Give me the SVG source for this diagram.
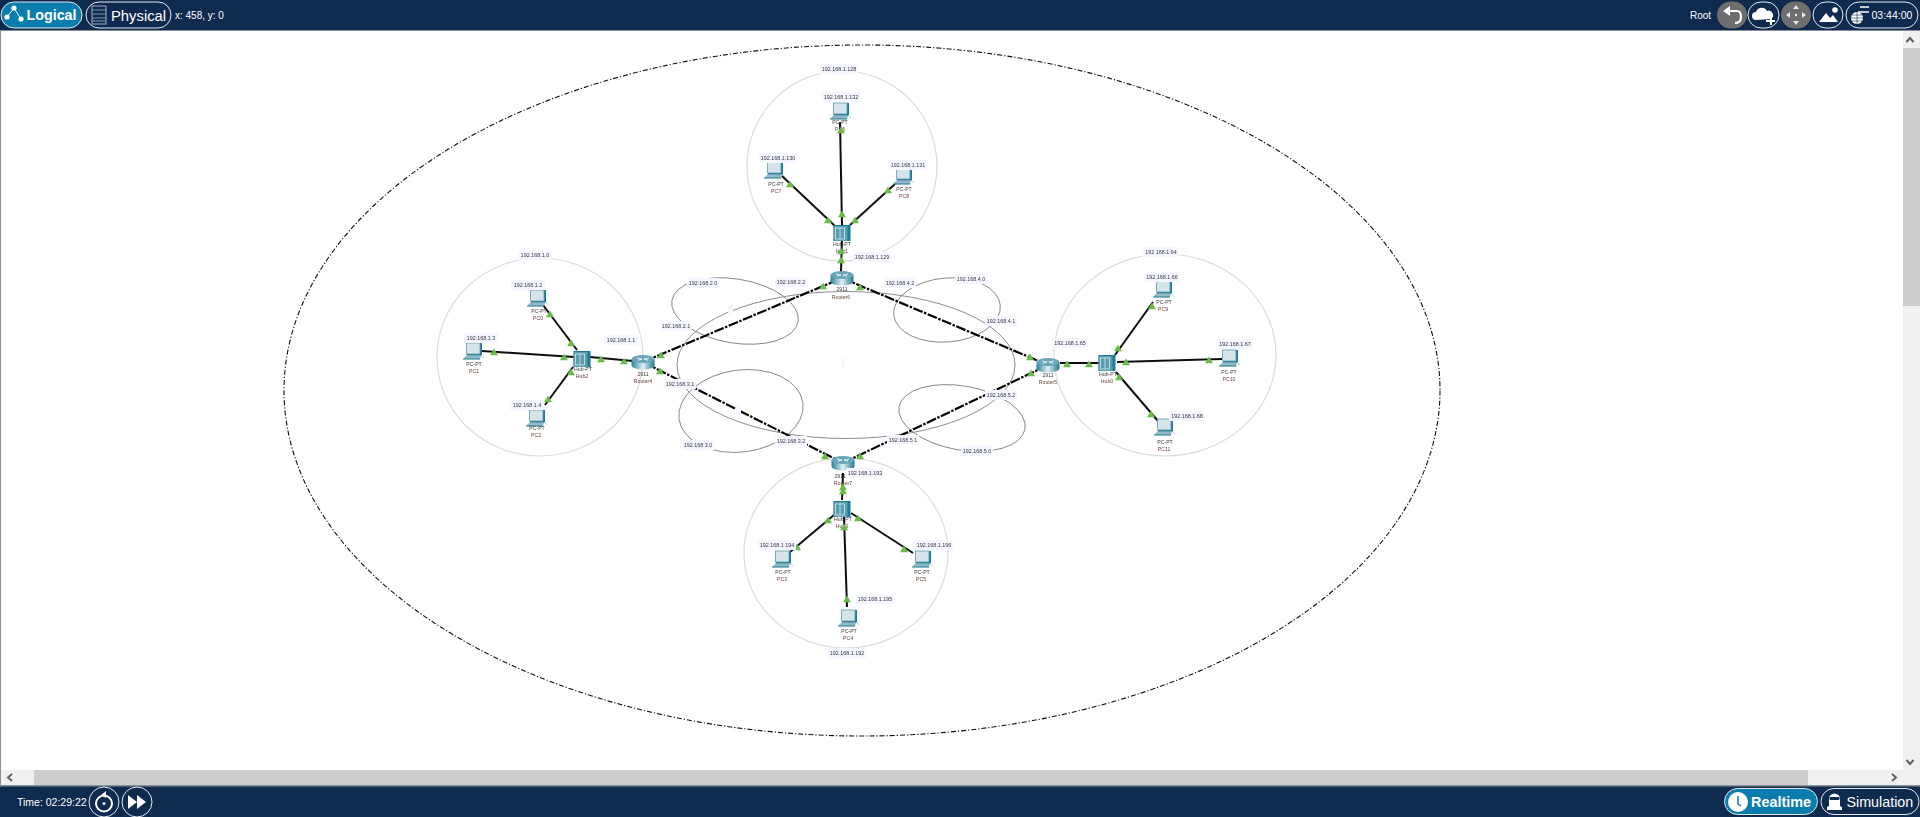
<svg xmlns="http://www.w3.org/2000/svg" width="1920" height="817" viewBox="0 0 1920 817">
<style>
text{font-family:"Liberation Sans",Arial,sans-serif}
.ui{fill:#fff;font-size:10.5px}
.ip{font-size:5.4px;fill:#3a3440;text-anchor:middle}
.lb{fill:#f5f7fe}
.nm{font-size:5.2px;fill:#3c3c3c;text-anchor:middle}
.dev{fill:#6a4238}
.net{fill:none;stroke:#dcdcdc;stroke-width:1.2}
.cloud{fill:none;stroke:#808080;stroke-width:.9}
.lan{stroke:#111;stroke-width:2;fill:none}
.wan{stroke:#000;stroke-width:2.2;fill:none;stroke-dasharray:10 1.5 2.5 1.5}
.pill{fill:none;stroke:#e4e8ee;stroke-width:1}
.on{fill:#0a7dae;stroke:#e4e8ee;stroke-width:1}
.grey{fill:#6e6e6e}
</style>
<defs>
<filter id="soft" filterUnits="userSpaceOnUse" x="0" y="30" width="1920" height="740"><feGaussianBlur stdDeviation="0.35"/></filter>
<polygon id="t" points="0,-3.4 4,3.2 -4,3.2" fill="#6abb4a"/>
<linearGradient id="rg" x1="0" x2="1" y1="0" y2="0">
<stop offset="0" stop-color="#2b7f97"/><stop offset=".5" stop-color="#dcf0f5"/><stop offset="1" stop-color="#23768e"/>
</linearGradient>
<g id="pc">
<rect x="-6" y="-9" width="15" height="12.5" fill="#1c7b94"/>
<rect x="-6.5" y="-9" width="13.5" height="11" fill="#d5e4eb" stroke="#5f9aad" stroke-width=".8"/>
<polygon points="-6,3 8,3 7,7 -10,7" fill="#6da4b6"/>
<path d="M-8 5H7" stroke="#d5e4eb" stroke-width=".7"/>
<path d="M-10 7.2H7" stroke="#2b7f97" stroke-width=".8"/>
<path d="M9 4l2 2" stroke="#9bb" stroke-width=".8"/>
</g>
<g id="hub">
<rect x="-8.5" y="-8" width="17" height="16" fill="#1c7b94"/>
<rect x="-8.5" y="-7" width="14" height="15" fill="#5b9cb0"/>
<rect x="-6.5" y="-5" width="9" height="11" fill="none" stroke="#d5e9ef" stroke-width=".8"/>
<path d="M-2 -5V6" stroke="#d5e9ef" stroke-width=".8"/>
</g>
<g id="rt">
<path d="M-11.5 -3V3.5A11.5 4 0 0 0 11.5 3.5V-3Z" fill="url(#rg)"/>
<ellipse cx="0" cy="-3" rx="11.5" ry="4" fill="#6ba6b9"/>
<path d="M-6 -4L-1 -2.5M6 -4L1 -2.5M-5 -1.5L-1 -3.5M5 -1.5L1 -3.5" stroke="#fff" stroke-width=".8"/>
</g>
</defs>

<rect width="1920" height="817" fill="#fff"/>

<g id="workspace" filter="url(#soft)">
<g id="backbone">
<ellipse cx="862" cy="390.5" rx="578" ry="345.5" fill="none" stroke="#111" stroke-width="1.1" stroke-dasharray="5 2 1.2 2"/>
</g>
<g id="networks">
<ellipse class="net" cx="842" cy="166" rx="95" ry="95"/>
<ellipse class="net" cx="540" cy="357" rx="103" ry="99"/>
<ellipse class="net" cx="1165" cy="355" rx="111" ry="101"/>
<ellipse class="net" cx="846" cy="553" rx="102" ry="95"/>
<ellipse class="cloud" cx="846" cy="365" rx="169" ry="73.5"/>
<ellipse class="cloud" cx="735" cy="311" rx="64" ry="32" transform="rotate(9.5 735 311)"/>
<ellipse class="cloud" cx="947" cy="310" rx="53.5" ry="32" transform="rotate(-5 947 310)"/>
<ellipse class="cloud" cx="741" cy="411" rx="62.5" ry="41" transform="rotate(-7.5 741 411)"/>
<ellipse class="cloud" cx="962" cy="418" rx="64" ry="32" transform="rotate(10 962 418)"/>
</g>

<g id="connectors">
<path class="wan" d="M643 362L842 278"/>
<path class="wan" d="M643 362L843 463"/>
<path class="wan" d="M842 278L1048 365"/>
<path class="wan" d="M843 463L1048 365"/>
<path class="lan" d="M840 122L842 225"/>
<path class="lan" d="M782 176L835 226"/>
<path class="lan" d="M895 184L850 225"/>
<path class="lan" d="M842 240L841 272"/>
<path class="lan" d="M543 305L577 350"/>
<path class="lan" d="M482 351L574 357"/>
<path class="lan" d="M545 405L573 367"/>
<path class="lan" d="M590 357L633 361"/>
<path class="lan" d="M1153 302L1115 355"/>
<path class="lan" d="M1117 362L1222 359"/>
<path class="lan" d="M1116 372L1158 421"/>
<path class="lan" d="M1060 363L1099 363"/>
<path class="lan" d="M843 473L842 500"/>
<path class="lan" d="M790 552L834 515"/>
<path class="lan" d="M913 553L851 513"/>
<path class="lan" d="M847 607L844 517"/>
</g>

<g id="PC6"><use href="#pc" x="840" y="112"/><text class="nm" x="840" y="124">PC-PT</text><text class="nm dev" x="840" y="131">PC6</text></g>
<g id="PC7"><use href="#pc" x="774" y="171"/><text class="nm" x="776" y="186">PC-PT</text><text class="nm dev" x="776" y="193">PC7</text></g>
<g id="PC8"><use href="#pc" x="903" y="177"/><text class="nm" x="904" y="191">PC-PT</text><text class="nm dev" x="904" y="198">PC8</text></g>
<g id="Hub1"><use href="#hub" x="842" y="233"/><text class="nm" x="842" y="246">Hub-PT</text><text class="nm dev" x="842" y="253">Hub1</text></g>
<g id="Router6"><use href="#rt" x="842" y="278"/><text class="nm" x="842" y="291">2911</text><text class="nm dev" x="841" y="299">Router6</text></g>

<g id="PC0"><use href="#pc" x="537" y="299"/><text class="nm" x="539" y="313">PC-PT</text><text class="nm dev" x="538" y="320">PC0</text></g>
<g id="PC1"><use href="#pc" x="473" y="352"/><text class="nm" x="474" y="366">PC-PT</text><text class="nm dev" x="474" y="373">PC1</text></g>
<g id="PC2"><use href="#pc" x="536" y="419"/><text class="nm" x="537" y="430">PC-PT</text><text class="nm dev" x="536" y="437">PC2</text></g>
<g id="Hub2"><use href="#hub" x="582" y="359"/><text class="nm" x="583" y="371">Hub-PT</text><text class="nm dev" x="582" y="378">Hub2</text></g>
<g id="Router4"><use href="#rt" x="643" y="362"/><text class="nm" x="643" y="376">2911</text><text class="nm dev" x="643" y="383">Router4</text></g>

<g id="PC9"><use href="#pc" x="1163" y="290"/><text class="nm" x="1164" y="304">PC-PT</text><text class="nm dev" x="1163" y="311">PC9</text></g>
<g id="PC10"><use href="#pc" x="1229" y="359"/><text class="nm" x="1229" y="374">PC-PT</text><text class="nm dev" x="1229" y="381">PC10</text></g>
<g id="PC11"><use href="#pc" x="1164" y="428"/><text class="nm" x="1165" y="444">PC-PT</text><text class="nm dev" x="1164" y="451">PC11</text></g>
<g id="Hub0"><use href="#hub" x="1107" y="363"/><text class="nm" x="1108" y="376">Hub-PT</text><text class="nm dev" x="1107" y="383">Hub0</text></g>
<g id="Router5"><use href="#rt" x="1048" y="365"/><text class="nm" x="1048" y="377">2911</text><text class="nm dev" x="1048" y="384">Router5</text></g>

<g id="PC3"><use href="#pc" x="782" y="560"/><text class="nm" x="783" y="574">PC-PT</text><text class="nm dev" x="782" y="581">PC3</text></g>
<g id="PC4"><use href="#pc" x="848" y="619"/><text class="nm" x="849" y="633">PC-PT</text><text class="nm dev" x="848" y="640">PC4</text></g>
<g id="PC5"><use href="#pc" x="922" y="560"/><text class="nm" x="922" y="574">PC-PT</text><text class="nm dev" x="921" y="581">PC5</text></g>
<g id="Hub3"><use href="#hub" x="842" y="509"/><text class="nm" x="843" y="521">Hub-PT</text><text class="nm dev" x="842" y="528">Hub3</text></g>
<g id="Router7"><use href="#rt" x="843" y="463"/><text class="nm" x="840" y="478">2911</text><text class="nm dev" x="843" y="485">Router7</text></g>

<g id="link-lights">
<use href="#t" x="841" y="130"/><use href="#t" x="842" y="214"/><use href="#t" x="790" y="184"/><use href="#t" x="828" y="220"/>
<use href="#t" x="888" y="190"/><use href="#t" x="855" y="220"/><use href="#t" x="841" y="251"/><use href="#t" x="841" y="260"/>
<use href="#t" x="550" y="314"/><use href="#t" x="571" y="343"/><use href="#t" x="494" y="352"/><use href="#t" x="564" y="357"/>
<use href="#t" x="548" y="399"/><use href="#t" x="571" y="372"/><use href="#t" x="601" y="359"/><use href="#t" x="624" y="361"/>
<use href="#t" x="1152" y="306"/><use href="#t" x="1118" y="348"/><use href="#t" x="1126" y="362"/><use href="#t" x="1209" y="360"/>
<use href="#t" x="1119" y="377"/><use href="#t" x="1151" y="414"/><use href="#t" x="1067" y="364"/><use href="#t" x="1089" y="364"/>
<use href="#t" x="843" y="487"/><use href="#t" x="843" y="491"/><use href="#t" x="797" y="547"/><use href="#t" x="828" y="520"/>
<use href="#t" x="904" y="549"/><use href="#t" x="858" y="518"/><use href="#t" x="847" y="599"/><use href="#t" x="844" y="527"/>
<use href="#t" x="661" y="355"/><use href="#t" x="823" y="286"/><use href="#t" x="660" y="371"/><use href="#t" x="825" y="456"/>
<use href="#t" x="860" y="287"/><use href="#t" x="1030" y="357"/><use href="#t" x="860" y="456"/><use href="#t" x="1031" y="373"/>
</g>

<g id="address-labels">
<rect class="lb" x="728" y="305" width="5" height="10"/>
<rect class="lb" x="841" y="358" width="4" height="11"/>
<rect class="lb" x="736" y="405" width="5" height="10"/>
<rect class="lb" x="820" y="64" width="38" height="10"/><text class="ip" x="839" y="71">192.168.1.128</text>
<rect class="lb" x="822" y="92" width="38" height="10"/><text class="ip" x="841" y="99">192.168.1.132</text>
<rect class="lb" x="759" y="153" width="38" height="10"/><text class="ip" x="778" y="160">192.168.1.130</text>
<rect class="lb" x="889" y="160" width="38" height="10"/><text class="ip" x="908" y="167">192.168.1.131</text>
<rect class="lb" x="853" y="252" width="38" height="10"/><text class="ip" x="872" y="259">192.168.1.129</text>
<rect class="lb" x="518" y="250" width="34" height="10"/><text class="ip" x="535" y="257">192.168.1.0</text>
<rect class="lb" x="511" y="280" width="34" height="10"/><text class="ip" x="528" y="287">192.168.1.2</text>
<rect class="lb" x="464" y="333" width="34" height="10"/><text class="ip" x="481" y="340">192.168.1.3</text>
<rect class="lb" x="510" y="400" width="34" height="10"/><text class="ip" x="527" y="407">192.168.1.4</text>
<rect class="lb" x="604" y="335" width="34" height="10"/><text class="ip" x="621" y="342">192.168.1.1</text>
<rect class="lb" x="1143" y="247" width="36" height="10"/><text class="ip" x="1161" y="254">192.168.1.64</text>
<rect class="lb" x="1144" y="272" width="36" height="10"/><text class="ip" x="1162" y="279">192.168.1.66</text>
<rect class="lb" x="1217" y="339" width="36" height="10"/><text class="ip" x="1235" y="346">192.168.1.67</text>
<rect class="lb" x="1169" y="411" width="36" height="10"/><text class="ip" x="1187" y="418">192.168.1.68</text>
<rect class="lb" x="1052" y="338" width="36" height="10"/><text class="ip" x="1070" y="345">192.168.1.65</text>
<rect class="lb" x="846" y="468" width="38" height="10"/><text class="ip" x="865" y="475">192.168.1.193</text>
<rect class="lb" x="758" y="540" width="38" height="10"/><text class="ip" x="777" y="547">192.168.1.194</text>
<rect class="lb" x="915" y="540" width="38" height="10"/><text class="ip" x="934" y="547">192.168.1.196</text>
<rect class="lb" x="856" y="594" width="38" height="10"/><text class="ip" x="875" y="601">192.168.1.195</text>
<rect class="lb" x="828" y="648" width="38" height="10"/><text class="ip" x="847" y="655">192.168.1.192</text>
<rect class="lb" x="687" y="278" width="32" height="10"/><text class="ip" x="703" y="285">192.168.2.0</text>
<rect class="lb" x="775" y="277" width="32" height="10"/><text class="ip" x="791" y="284">192.168.2.2</text>
<rect class="lb" x="660" y="321" width="32" height="10"/><text class="ip" x="676" y="328">192.168.2.1</text>
<rect class="lb" x="955" y="274" width="32" height="10"/><text class="ip" x="971" y="281">192.168.4.0</text>
<rect class="lb" x="884" y="278" width="32" height="10"/><text class="ip" x="900" y="285">192.168.4.2</text>
<rect class="lb" x="985" y="316" width="32" height="10"/><text class="ip" x="1001" y="323">192.168.4.1</text>
<rect class="lb" x="664" y="379" width="32" height="10"/><text class="ip" x="680" y="386">192.168.3.1</text>
<rect class="lb" x="775" y="436" width="32" height="10"/><text class="ip" x="791" y="443">192.168.3.2</text>
<rect class="lb" x="682" y="440" width="32" height="10"/><text class="ip" x="698" y="447">192.168.3.0</text>
<rect class="lb" x="887" y="435" width="32" height="10"/><text class="ip" x="903" y="442">192.168.5.1</text>
<rect class="lb" x="985" y="390" width="32" height="10"/><text class="ip" x="1001" y="397">192.168.5.2</text>
<rect class="lb" x="961" y="446" width="32" height="10"/><text class="ip" x="977" y="453">192.168.5.0</text>
</g>
</g>

<g id="scrollbars">
<rect x="0" y="770" width="1903" height="16" fill="#f0f0f0"/>
<rect x="34" y="770" width="1774" height="15" fill="#cdcdcd"/>
<path d="M12 774l-4 3.5 4 3.5" fill="none" stroke="#606060" stroke-width="2"/>
<path d="M1892 774l4 3.5-4 3.5" fill="none" stroke="#606060" stroke-width="2"/>
<rect x="1903" y="30" width="17" height="756" fill="#f0f0f0"/>
<rect x="1903" y="48" width="17" height="258" fill="#cdcdcd"/>
<path d="M1906.5 42l3.5-4 3.500 4" fill="none" stroke="#606060" stroke-width="2"/>
<path d="M1906.5 760l3.5 4 3.500-4" fill="none" stroke="#606060" stroke-width="2"/>
<rect x="0" y="30" width="1" height="756" fill="#8a9098"/>
</g>

<g id="top-bar">
<rect width="1920" height="30" fill="#0e2a4e"/>
<rect y="30" width="1920" height="1" fill="#8a9098"/>
<rect class="on" x="1" y="2" width="81" height="26" rx="13"/>
<path d="M7 17L14 8L21 19" fill="none" stroke="#fff"/><circle cx="7" cy="17" r="2.6" fill="#fff"/><circle cx="14" cy="8" r="2.6" fill="#fff"/><circle cx="21" cy="19" r="2.6" fill="#fff"/>
<text x="26.5" y="20" font-size="14.3" font-weight="700" fill="#fff">Logical</text>
<rect class="pill" x="86" y="2" width="85" height="26" rx="13"/>
<rect x="92" y="6" width="14" height="18" fill="none" stroke="#9fb0c4"/><path d="M92 10H106M92 14H106M92 18H106M92 21H106" stroke="#9fb0c4" stroke-width=".8"/>
<text x="111" y="21" font-size="14.8" fill="#fff">Physical</text>
<text x="175" y="18.5" font-size="10px" fill="#fff">x: 458, y: 0</text>
<text x="1690" y="19" font-size="10px" fill="#fff">Root</text>
<rect class="grey" x="1717" y="1.5" width="30" height="27" rx="13.5"/>
<path d="M1725 11H1737Q1741 11 1741 17Q1741 23 1735 23" fill="none" stroke="#fff" stroke-width="2.2"/><path d="M1723 11L1730 6V16Z" fill="#fff"/>
<rect class="pill" x="1748" y="2" width="31" height="26" rx="13"/>
<path d="M1756 20a4 4 0 0 1 0-8a6 6 0 0 1 11-1a4.5 4.5 0 0 1 4 8Z" fill="#fff"/><path d="M1771 16V25M1766 21H1775" stroke="#fff" stroke-width="2"/>
<rect class="grey" x="1781" y="1.5" width="30" height="27" rx="13.5"/>
<path d="M1796 5l3 4h-6ZM1796 25l3-4h-6ZM1786 15l4-3v6ZM1806 15l-4-3v6Z" fill="#e8e8e8"/><circle cx="1796" cy="15" r="1.2" fill="#e8e8e8"/>
<rect class="pill" x="1813" y="2" width="30" height="26" rx="13"/>
<path d="M1819 22l7-9 4 5 3-3 5 7Z" fill="#fff"/><circle cx="1835" cy="10" r="2.8" fill="#fff"/>
<rect class="pill" x="1846" y="2" width="72" height="26" rx="13"/>
<circle cx="1857" cy="18" r="6" fill="#fff"/><path d="M1851 18H1863M1857 12V24M1852 15H1862M1852 21H1862" stroke="#0e2a4e" stroke-width=".6"/><path d="M1860 7H1869M1858 12H1869" stroke="#fff" stroke-width="1.4"/>
<text class="ui" x="1871.5" y="19">03:44:00</text>
</g>

<g id="bottom-bar">
<rect y="786" width="1920" height="31" fill="#0e2a4e"/>
<rect y="785" width="1920" height="1.5" fill="#8a9098"/>
<text class="ui" x="17" y="806">Time: 02:29:22</text>
<circle cx="104" cy="802" r="15" fill="none" stroke="#e4e8ee"/>
<circle cx="104" cy="803.5" r="8" fill="none" stroke="#fff" stroke-width="2"/><circle cx="104" cy="803.5" r="1.5" fill="#fff"/><path d="M106 791l-5 4 5 3Z" fill="#fff"/>
<circle cx="137" cy="802" r="15" fill="none" stroke="#e4e8ee"/>
<path d="M128 795l9 7-9 7ZM137 795l9 7-9 7Z" fill="#fff"/>
<rect class="on" x="1724.5" y="788.5" width="93" height="26" rx="13"/>
<circle cx="1738" cy="802" r="10" fill="#fff"/><path d="M1738 796V804L1741 806" fill="none" stroke="#0a7dae" stroke-width="1.5"/>
<text x="1751" y="807" font-size="14.4" font-weight="700" fill="#fff">Realtime</text>
<rect class="pill" x="1821" y="788.5" width="98" height="26" rx="13"/>
<path d="M1827 810v-3l2-1v-7a5 5 0 0 1 11 0v7l2 1v3Z" fill="#fff"/><rect x="1829.5" y="797" width="10" height="3" rx="1" fill="#0e2a4e"/>
<text x="1846.5" y="807" font-size="14.3" fill="#fff">Simulation</text>
</g>
</svg>
